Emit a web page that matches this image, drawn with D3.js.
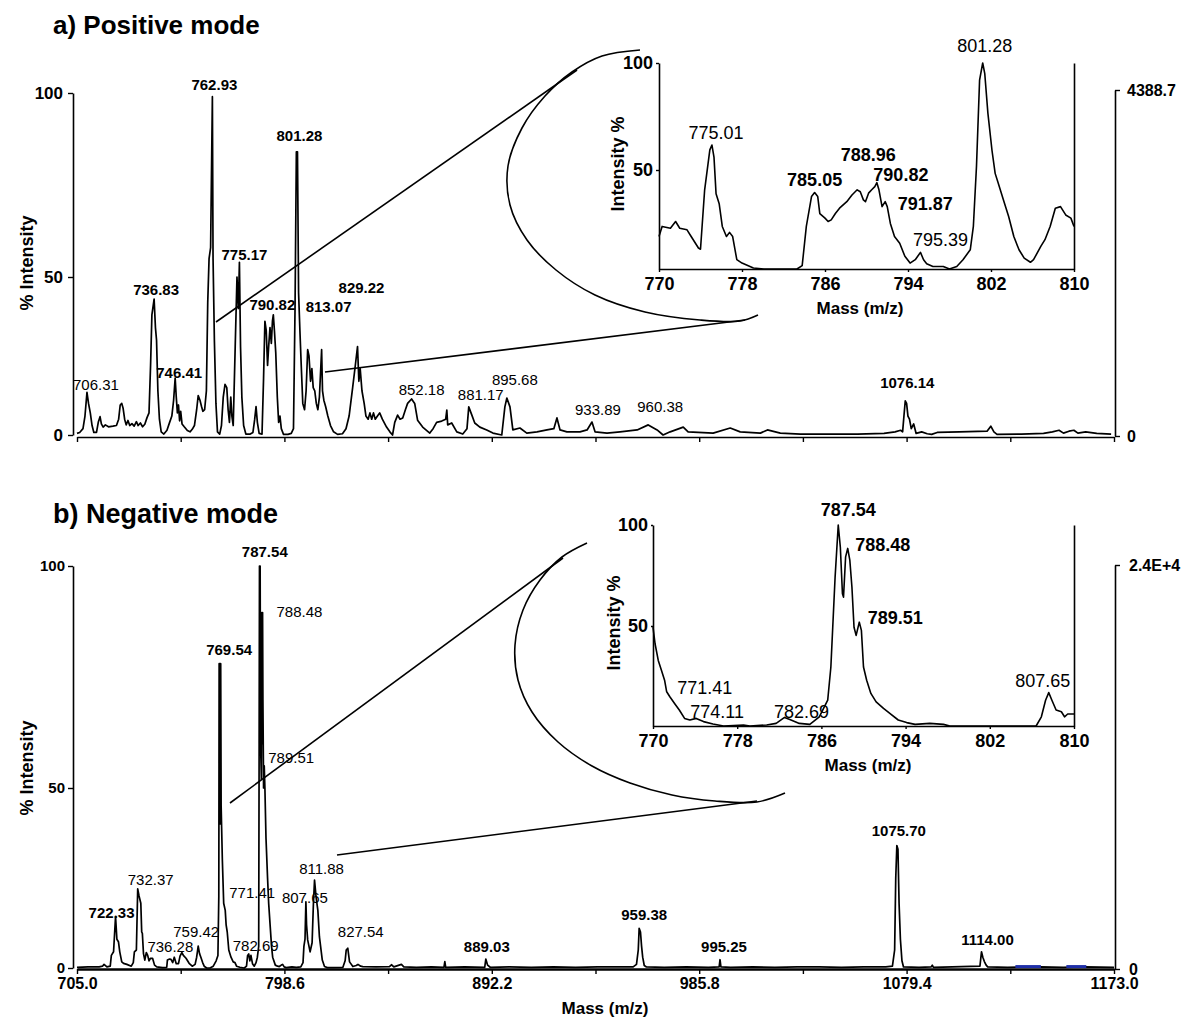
<!DOCTYPE html>
<html>
<head>
<meta charset="utf-8">
<script src="https://cdn.jsdelivr.net/npm/d3@7"></script>
<style>
body { margin: 0; background: #fff; }
svg { font-family: "Liberation Sans", Arial, sans-serif; }
</style>
</head>
<body>
<svg></svg>
<script>
// canvas
let width = 1191;
let height = 1023;

// ---------- data ----------
// full spectra: [m/z, % intensity]
let posSpectrum = [
  [701.8,0.5],[703.0,0.8],[704.5,2],[705.4,6],[706.3,13.5],[707.0,10],[707.8,7],[708.6,3],[709.4,0.8],[710.6,0.8],
  [711.4,4],[712.2,5.8],[712.8,3.5],[713.6,2.5],[714.6,3.2],[716.0,2.6],[718.0,2.8],[719.6,3],[720.6,5],[721.3,9.5],
  [722.0,10],[722.6,8.5],[723.3,5],[724.0,3.2],[724.8,4.6],[725.6,3],[726.6,3.6],[727.6,2.8],[728.6,4.2],[729.4,3],
  [730.4,3.8],[731.4,2.6],[732.4,3.4],[733.4,5.5],[734.3,7],[735.0,22],[735.6,38],[736.6,43],[737.2,34],[737.7,30],
  [738.3,14],[739.0,5],[739.8,1],[741.0,0.3],[742.4,1.5],[743.6,4],[744.6,6],[745.4,11],[746.1,18],[746.6,12],
  [747.1,7],[747.6,9.5],[748.1,4.5],[748.6,7.5],[749.2,3.5],[750.2,2.6],[751.6,1.4],[752.8,1],[753.8,1.8],[754.8,3],
  [755.8,8],[756.5,12.5],[757.3,11],[758.0,9],[758.6,7.5],[759.4,8],[760.2,14],[760.8,42],[761.4,55],[762.1,58],
  [762.9,99],[763.2,55],[763.8,30],[764.5,10],[765.2,1],[766.2,0.3],[767.0,3],[767.8,12],[768.6,16],[769.4,15],
  [770.0,8],[770.6,4],[771.2,12],[771.7,6],[772.3,3],[773.2,28],[774.0,50],[774.6,40],[775.1,54],[775.6,28],
  [776.2,12],[777.0,3],[778.0,0.3],[780.0,0.3],[781.2,0.8],[782.0,5],[782.6,9],[783.2,4],[784.0,0.5],[785.3,0.3],
  [786.0,18],[786.6,36],[787.2,33],[787.8,22],[788.3,28],[788.9,34],[789.5,29],[790.0,36],[790.4,38],[790.9,33],
  [791.5,26],[792.2,12],[792.8,4],[793.4,6],[794.0,2],[795.0,0.2],[797.0,0.2],[798.5,0.5],[799.5,2],[800.2,40],
  [800.8,84],[801.3,84],[801.8,45],[802.4,33],[803.0,22],[803.7,10],[804.5,8],[805.2,14],[805.9,27],[806.5,25],
  [807.2,17],[807.8,21],[808.4,15],[809.1,14],[809.8,10],[810.5,8],[811.2,12],[812.2,27],[812.6,14],[813.2,11],
  [814.0,9],[815.0,6],[816.2,3],[817.6,1],[819.4,0.2],[821.6,0.4],[823.2,2],[824.6,6],[826.2,15],[827.4,22],
  [828.4,28],[829.0,17],[829.6,21],[830.4,14],[831.4,10],[832.2,6],[833.2,5],[834.0,7],[834.8,5],[835.6,7],
  [836.4,5],[837.4,6],[838.4,7],[839.6,5],[841.5,2.5],[843.0,1],[844.2,0],[845.2,4],[846.5,6.3],[847.6,5],
  [848.8,5.4],[850.0,8],[851.0,10],[852.8,11.4],[854.2,10],[855.5,4.7],[857.8,2.5],[861.0,0.6],[862.5,2],[864.1,4],
  [866.4,4.4],[868.2,5],[868.7,7.9],[869.1,3.2],[870.9,3.8],[873.2,1],[875.9,0.3],[877.8,2],[878.6,8.9],[880.0,6.3],
  [881.3,3.8],[883.6,2.5],[886.7,1.6],[889.5,0.6],[893.5,0],[894.9,8.9],[895.8,11.7],[897.2,8.9],[898.5,1.6],[901.7,2.2],
  [904.8,0.6],[909.4,1],[913.9,1.6],[917.0,2],[918.4,5.4],[919.8,1.6],[922.9,1],[928.8,1],[932.0,1.6],[934.2,4.1],
  [935.6,1],[941.0,0.6],[946.9,1],[954.6,1.6],[959.6,3.2],[963.6,1.6],[966.3,0],[969.5,1],[975.4,2.5],[977.6,1],
  [988.9,0.6],[996.6,2.2],[1001.1,1],[1010.2,0.6],[1013.4,1.6],[1019.2,0.6],[1028.3,0.3],[1054.1,0.3],[1066.0,0.5],[1071.0,1],
  [1073.5,1.5],[1074.4,1],[1075.0,6],[1075.6,10.8],[1076.2,10],[1076.8,6],[1077.5,5],[1078.3,2],[1079.4,3.5],[1080.5,0.5],
  [1083.0,1],[1085.5,0.4],[1087.5,0.2],[1090.0,0.8],[1100.0,1],[1112.5,1.2],[1114.2,2.8],[1115.6,1],[1117.0,0.2],[1128.0,0.3],
  [1138.0,0.5],[1142.0,1],[1145.0,1.5],[1147.0,0.6],[1149.5,1.2],[1151.7,1.5],[1153.5,0.6],[1157.0,1],[1162.0,0.5],[1168.5,0.3]
];

let negSpectrum = [
  [705.0,0.2],[710.0,0.3],[715.0,0.3],[716.5,0.5],[717.2,1.0],[718.5,0.3],[720.0,0.5],[720.5,3.5],[721.5,4.5],[722.4,14.3],
  [723.0,8],[723.7,7.3],[724.3,4.5],[725.2,1.7],[726.0,1.3],[727.5,1.0],[729.5,0.5],[730.4,1.5],[730.9,4.5],[731.8,5],
  [732.4,22],[733.0,20],[733.8,18],[734.2,10],[734.5,9.6],[735.0,4],[735.6,2.2],[736.3,4.3],[736.9,3.5],[737.5,2],
  [738.2,2.7],[739.1,2.7],[740.0,0.8],[741.0,0.3],[743.6,0.1],[745.5,0.2],[745.8,2.2],[746.8,2.5],[747.4,2.4],[748.2,1.5],
  [748.9,3.0],[749.8,1.2],[750.8,1.2],[751.5,3.3],[752.3,4.3],[753.0,3.5],[754.2,2.7],[755.6,1.3],[757.0,0.5],[758.3,1],
  [759.0,3],[759.7,6.1],[760.3,4],[760.9,3],[761.7,1.5],[762.4,0.5],[763.5,0],[765.0,0],[766.5,0.5],[767.8,2],
  [768.6,3.5],[769.0,20],[769.15,78],[769.35,40],[769.5,78],[769.7,40],[769.85,78],[770.05,45],[770.6,30],[771.2,18],
  [771.9,16],[772.3,12],[772.8,10],[773.5,5],[774.5,3],[775.5,1.7],[776.3,1.5],[777.0,0.5],[778.5,0.2],[780.5,0],
  [781.5,0.5],[782.0,3.5],[782.5,3.9],[783.0,2],[783.5,3.5],[784.2,1.2],[785.0,0.5],[785.8,1.5],[786.4,3],[787.0,6],
  [787.2,60],[787.35,100],[787.5,70],[787.65,100],[787.85,60],[788.2,52],[788.4,89.5],[788.6,60],[788.75,89.5],[788.9,70],
  [789.2,50],[789.5,55],[789.8,50],[790.3,36],[791.0,25],[791.5,18],[792.1,12.4],[792.8,6],[793.3,3],[794.5,0.8],
  [795.5,0.5],[796.3,0.4],[797.2,0.8],[797.8,1],[798.5,0.3],[799.4,0.1],[802.0,0.3],[804.0,0.2],[806.0,0.3],[807.0,1.5],
  [807.4,6],[807.9,8],[808.3,18.4],[808.6,12],[809.1,7.8],[809.7,6],[810.2,4.5],[811.1,7],[811.7,18],[812.2,24.4],
  [812.9,19.7],[813.7,16],[814.4,8.7],[815.7,2.2],[816.7,0.4],[818.0,0.1],[820.5,0.1],[825.0,0.2],[826.0,2],[826.5,5],
  [827.2,5.5],[828.0,1.7],[829.5,0.4],[831.0,0.7],[831.8,1],[833.0,0.5],[834.0,0.4],[840.0,0.3],[846.0,0.4],[846.9,0.9],
  [848.0,0.3],[851.4,1.0],[852.5,0.3],[858.2,0.2],[865.0,0.3],[870.6,0.2],[871.0,1.8],[871.4,0.2],[880.0,0.3],[889.0,0.2],
  [889.5,2.5],[890.3,0.8],[891.5,0.2],[900,0.3],[910,0.2],[920,0.3],[930,0.2],[940,0.3],[950,0.3],[956,0.3],
  [957.5,1],[958.3,5],[958.7,11],[959.3,10],[959.8,6],[960.3,3],[961.0,0.7],[962,0.3],[970,0.2],[980,0.3],
  [990,0.2],[994.8,0.3],[995.2,2.3],[995.6,0.3],[1000,0.2],[1010,0.3],[1020,0.2],[1030,0.3],[1040,0.3],[1050,0.2],
  [1060,0.3],[1070,0.3],[1073.0,0.5],[1074.0,5],[1074.5,25],[1075.0,34],[1075.5,33],[1076.0,18],[1076.6,8],[1077.3,2],
  [1078.0,0.3],[1085,0.2],[1090.5,0.3],[1091.0,0.8],[1091.5,0.2],[1100,0.3],[1112.5,0.5],[1113.2,4.5],[1113.8,3],[1114.5,1.8],
  [1115.3,0.8],[1116,0.3],[1125,0.2],[1140,0.3],[1150,0.2],[1160,0.3],[1173,0.2]
];

// blue baseline segments at the right end of the negative spectrum: [from m/z, to m/z]
let negBlueRanges = [[1128.5, 1140.0], [1151.5, 1160.5]];

// zoomed windows 770-810
let posZoom = [
  [770.0,16.4],[770.3,21.5],[771.1,20.6],[771.6,24],[772.0,20.6],[772.7,19.8],[773.1,16.4],[773.8,10.6],[774.0,10],[774.4,40],
  [774.9,59.4],[775.1,61.7],[775.3,56],[775.5,38],[775.8,33],[776.1,21.5],[776.5,16.4],[776.8,18.5],[777.1,16.4],[777.5,4.7],
  [778.0,3],[779.1,0.5],[780.1,0],[783.3,0],[783.8,1.7],[784.2,21.5],[784.7,36.6],[785.0,38.6],[785.3,36.6],[785.5,28],
  [786.0,25.7],[786.3,24],[786.6,24.8],[787.0,28],[787.4,30.7],[788.1,34],[788.6,37.4],[789.1,40],[789.4,39],[789.7,34.9],
  [789.9,34],[790.2,38.3],[790.5,40],[790.8,41.6],[791.0,43.6],[791.2,40],[791.5,31.5],[791.8,34],[792.0,31.5],[792.3,23],
  [792.7,16.4],[793.2,13],[793.7,6.4],[794.2,3],[794.7,4.7],[795.2,8.4],[795.5,4.7],[795.8,2.7],[796.4,1.3],[797.4,1.3],
  [798.0,0],[798.7,1.3],[799.3,4.7],[800.0,9.7],[800.3,21.5],[800.6,51.6],[800.9,92],[801.2,100],[801.4,95],[801.7,76.6],
  [802.1,59],[802.4,48.3],[802.7,43.3],[803.2,34.9],[803.7,26.5],[804.2,16.4],[804.7,9.7],[805.2,5.5],[805.8,3.4],[806.1,4.7],
  [806.8,11.4],[807.2,14.8],[807.7,21.5],[808.2,30.7],[808.7,31.5],[809.2,27.3],[809.7,25.7],[810.0,21.5]
];

let negZoom = [
  [770.0,49.4],[770.2,41],[770.5,32.8],[770.8,27.9],[771.1,22.9],[771.3,17.1],[771.6,14.6],[772.1,10.9],[772.5,8],[773.0,3.8],
  [773.5,3],[774.1,3.8],[774.8,2.2],[775.7,1],[776.7,0],[778.6,0.5],[779.2,0],[780.8,0.5],[781.7,1.3],[782.5,4.3],
  [783.0,3.3],[783.9,1.3],[784.9,0.8],[785.8,4.6],[786.6,12.9],[786.9,29.5],[787.3,74],[787.6,100],[787.8,89],[788.0,66],
  [788.1,64.3],[788.3,84.2],[788.5,88.4],[788.7,82.6],[788.9,69.3],[789.1,49.4],[789.3,45.3],[789.6,51.9],[789.8,47.8],[790.0,29.5],
  [790.3,22.9],[790.7,16.3],[791.2,12.1],[791.9,8.8],[792.5,6.3],[793.3,3],[794.1,1.7],[794.9,0.8],[796.3,1.3],[797.6,0.8],
  [798.2,0],[802.0,0],[806.4,0],[806.9,4.6],[807.3,12.9],[807.6,16.7],[807.9,12.9],[808.3,8],[808.8,7.1],[809.1,4.6],
  [809.4,6],[810.0,6]
];

// peak labels: [text, m/z of the peak, % intensity of the peak]
let posPeaks = [
  ['706.31',706.3,13.5],['736.83',736.6,43],['746.41',746.1,18],['762.93',762.9,99],['775.17',775.1,54],
  ['790.82',790.4,38],['801.28',801.3,84],['813.07',812.2,27],['829.22',828.4,28],['852.18',852.8,11.4],
  ['881.17',878.6,8.9],['895.68',895.8,11.7],['933.89',934.2,4.1],['960.38',959.6,3.2],['1076.14',1075.6,10.8]
];
let negPeaks = [
  ['722.33',722.4,14.3],['732.37',732.4,22],['736.28',736.3,4.3],['759.42',759.7,6.1],['769.54',769.6,78],
  ['771.41',771.9,16],['782.69',782.5,3.9],['787.54',787.5,100],['788.48',788.7,89.5],['789.51',789.5,55],
  ['807.65',808.3,18.4],['811.88',812.2,24.4],['827.54',827.2,5.5],['889.03',889.5,2.5],['959.38',958.7,11],
  ['995.25',995.2,2.3],['1075.70',1075.0,34],['1114.00',1113.2,4.5]
];
let posZoomPeaks = [
  ['775.01',775.1,61.7],['785.05',785.0,38.6],['788.96',789.1,40],['790.82',791.0,43.6],
  ['791.87',791.8,34],['795.39',795.2,8.4],['801.28',801.2,100]
];
let negZoomPeaks = [
  ['771.41',771.6,14.6],['774.11',774.1,3.8],['782.69',782.5,4.3],['787.54',787.6,100],
  ['788.48',788.5,88.4],['789.51',789.6,51.9],['807.65',807.6,16.7]
];

// axes
let massTicks = [705.0, 751.8, 798.6, 845.4, 892.2, 939.0, 985.8, 1032.6, 1079.4, 1126.2, 1173.0];
let massTickLabels = ['705.0', '', '798.6', '', '892.2', '', '985.8', '', '1079.4', '', '1173.0'];
let intensityTicks = [0, 50, 100];
let zoomTicks = [770, 778, 786, 794, 802, 810];
let zoomIntensityTicks = [50, 100];
let posCounts = [0, 4388.7];
let posCountLabels = ['0', '4388.7'];
let negCounts = [0, 24000];
let negCountLabels = ['0', '2.4E+4'];

// ---------- label placement (pixel nudges from the peak top) and weights ----------
let posLabelNudge = {
  '706.31':[9,-2,'normal'], '736.83':[2,-4,'bold'], '746.41':[4,0,'bold'], '762.93':[2,-7,'bold'],
  '775.17':[5,-2,'bold'], '790.82':[-1,-5,'bold'], '801.28':[2,-11,'bold'], '813.07':[7,-38,'bold'],
  '829.22':[4,-54,'bold'], '852.18':[10,-4,'normal'], '881.17':[12,-7,'normal'], '895.68':[8,-13,'normal'],
  '933.89':[6,-7,'normal'], '960.38':[12,-13,'normal'], '1076.14':[2,-13,'bold']
};
let negLabelNudge = {
  '722.33':[-4,1,'bold'], '732.37':[13,-4,'normal'], '736.28':[24,-1,'normal'], '759.42':[-2,-9,'normal'],
  '769.54':[9,-9,'bold'], '771.41':[27,-12,'normal'], '782.69':[7,-3,'normal'], '787.54':[5,-9,'bold'],
  '788.48':[37,4,'normal'], '789.51':[27,-3,'normal'], '807.65':[-1,1,'normal'], '811.88':[7,-6,'normal'],
  '827.54':[13,-11,'normal'], '889.03':[1,-7,'bold'], '959.38':[5,-8,'bold'], '995.25':[4,-8,'bold'],
  '1075.70':[2,-10,'bold'], '1114.00':[6,-7,'bold']
};
let posZoomNudge = {
  '775.01':[4,-6,'normal'], '785.05':[0,-7,'bold'], '788.96':[11,-29,'bold'], '790.82':[24,-2,'bold'],
  '791.87':[40,8,'bold'], '795.39':[20,-6,'normal'], '801.28':[2,-11,'normal']
};
let negZoomNudge = {
  '771.41':[35,-3,'normal'], '774.11':[21,0,'normal'], '782.69':[17,1,'normal'], '787.54':[10,-9,'bold'],
  '788.48':[35,3,'bold'], '789.51':[36,2,'bold'], '807.65':[-6,-6,'normal']
};

// callout shapes (pixel geometry of the hand-drawn loops)
let posCallout = {
  lines: [[[216,322],[577,70]], [[325,372],[745,320]]],
  loop: [[640,50],[602,56],[572,72],[545,96],[522,128],[508,166],[510,205],[527,240],[556,270],[595,295],[645,312],[700,320],[740,321],[758,315]]
};
let negCallout = {
  lines: [[[230,803],[563,558]], [[337,855],[757,801]]],
  loop: [[587,543],[562,557],[540,580],[523,610],[515,645],[518,680],[532,712],[558,742],[592,766],[630,783],[672,795],[715,801],[757,802],[785,793]]
};

// ---------- svg ----------
let svg = d3.select('svg')
  .attr('width', width)
  .attr('height', height);

svg.append('rect').attr('width', width).attr('height', height).attr('fill', '#fff');

// scales
let xAxisScale = d3.scaleLinear().domain([705, 1173]).range([77, 1114]);
let xPos = d3.scaleLinear().domain([701.8, 1169.8]).range([77, 1114]);   // top spectrum calibration
let xNeg = xAxisScale;
let yPos = d3.scaleLinear().domain([0, 50, 100]).range([435, 277, 93]);
let yNeg = d3.scaleLinear().domain([0, 50, 100]).range([968, 788, 566]);
let yPosCounts = d3.scaleLinear().domain([0, 4388.7]).range([436, 90]);
let yNegCounts = d3.scaleLinear().domain([0, 24000]).range([969, 565]);

let xZoomPos = d3.scaleLinear().domain([770, 810]).range([659, 1074]);
let yZoomPos = d3.scaleLinear().domain([0, 50, 100]).range([269, 170, 63]);
let xZoomNeg = d3.scaleLinear().domain([770, 810]).range([653, 1074]);
let yZoomNeg = d3.scaleLinear().domain([0, 50, 100]).range([726, 626, 525]);

function styleAxis(g, size) {
  g.select('.domain').attr('stroke', '#000').attr('stroke-width', 1.6);
  g.selectAll('.tick line').attr('stroke', '#000').attr('stroke-width', 1.4);
  g.selectAll('.tick text')
    .attr('fill', '#000')
    .attr('font-size', size)
    .attr('font-weight', 'bold')
    .attr('font-family', '"Liberation Sans", Arial, sans-serif');
}

function drawSpectrum(data, xs, ys, width) {
  let line = d3.line()
    .x(function(d) { return xs(d[0]); })
    .y(function(d) { return ys(d[1]); });
  svg.append('path')
    .datum(data)
    .attr('d', line)
    .attr('fill', 'none')
    .attr('stroke', '#000')
    .attr('stroke-width', width)
    .attr('stroke-linejoin', 'round');
}

function drawLabels(peaks, nudge, xs, ys, size) {
  svg.append('g')
    .selectAll('text')
    .data(peaks)
    .enter()
    .append('text')
    .attr('x', function(d) { return xs(d[1]) + nudge[d[0]][0]; })
    .attr('y', function(d) { return ys(d[2]) + nudge[d[0]][1]; })
    .attr('text-anchor', 'middle')
    .attr('font-size', size)
    .attr('font-weight', function(d) { return nudge[d[0]][2]; })
    .attr('fill', '#000')
    .text(function(d) { return d[0]; });
}

function drawCallout(c) {
  c.lines.forEach(function(seg) {
    svg.append('line')
      .attr('x1', seg[0][0]).attr('y1', seg[0][1])
      .attr('x2', seg[1][0]).attr('y2', seg[1][1])
      .attr('stroke', '#000').attr('stroke-width', 1.6);
  });
  svg.append('path')
    .datum(c.loop)
    .attr('d', d3.line().curve(d3.curveCatmullRom))
    .attr('fill', 'none')
    .attr('stroke', '#000')
    .attr('stroke-width', 1.6);
}

function rotatedText(x, y, txt, size) {
  svg.append('text')
    .attr('transform', `translate(${x}, ${y}) rotate(-90)`)
    .attr('text-anchor', 'middle')
    .attr('font-size', size)
    .attr('font-weight', 'bold')
    .text(txt);
}

// ---------- titles ----------
svg.append('text').attr('x', 53).attr('y', 34).attr('font-size', 26).attr('font-weight', 'bold').text('a) Positive mode');
svg.append('text').attr('x', 53).attr('y', 523).attr('font-size', 27).attr('font-weight', 'bold').text('b) Negative mode');

// ---------- panel a: main axes ----------
svg.append('g')
  .attr('transform', 'translate(0, 437)')
  .call(d3.axisBottom(xAxisScale).tickValues(massTicks).tickSize(5).tickSizeOuter(0).tickFormat(''))
  .call(styleAxis, 16);

svg.append('g')
  .attr('transform', 'translate(73, 0)')
  .call(d3.axisLeft(yPos).tickValues(intensityTicks).tickSize(5).tickSizeOuter(0).tickPadding(5))
  .call(styleAxis, 17);

svg.append('g')
  .attr('transform', 'translate(1115, 0)')
  .call(d3.axisRight(yPosCounts).tickValues(posCounts).tickSize(5).tickSizeOuter(0).tickPadding(7)
    .tickFormat(function(d, i) { return posCountLabels[i]; }))
  .call(styleAxis, 16);

rotatedText(33, 263, '% Intensity', 18);

drawSpectrum(posSpectrum, xPos, yPos, 1.7);
drawLabels(posPeaks, posLabelNudge, xPos, yPos, 15);
drawCallout(posCallout);

// ---------- panel a: inset ----------
svg.append('g')
  .attr('transform', 'translate(0, 269)')
  .call(d3.axisBottom(xZoomPos).tickValues(zoomTicks).tickSize(3).tickSizeOuter(0).tickPadding(5))
  .call(styleAxis, 18);
svg.append('g')
  .attr('transform', 'translate(659, 0)')
  .call(d3.axisLeft(yZoomPos).tickValues(zoomIntensityTicks).tickSize(3).tickSizeOuter(0).tickPadding(3))
  .call(styleAxis, 18);
svg.append('g')
  .attr('transform', 'translate(1074, 0)')
  .call(d3.axisRight(yZoomPos).tickValues([]).tickSizeOuter(0))
  .call(styleAxis, 18);

drawSpectrum(posZoom, xZoomPos, yZoomPos, 1.6);
drawLabels(posZoomPeaks, posZoomNudge, xZoomPos, yZoomPos, 18);
rotatedText(624, 164, 'Intensity %', 18);
svg.append('text').attr('x', 860).attr('y', 314).attr('text-anchor', 'middle')
  .attr('font-size', 17).attr('font-weight', 'bold').text('Mass (m/z)');

// ---------- panel b: main axes ----------
svg.append('g')
  .attr('transform', 'translate(0, 969)')
  .call(d3.axisBottom(xAxisScale).tickValues(massTicks).tickSize(5).tickSizeOuter(0).tickPadding(4)
    .tickFormat(function(d, i) { return massTickLabels[i]; }))
  .call(styleAxis, 16)
  .call(function(g) { g.select('.domain').attr('stroke-width', 2.6); });

svg.append('g')
  .attr('transform', 'translate(73, 0)')
  .call(d3.axisLeft(yNeg).tickValues(intensityTicks).tickSize(5).tickSizeOuter(0).tickPadding(3))
  .call(styleAxis, 15);

svg.append('g')
  .attr('transform', 'translate(1115, 0)')
  .call(d3.axisRight(yNegCounts).tickValues(negCounts).tickSize(5).tickSizeOuter(0).tickPadding(9)
    .tickFormat(function(d, i) { return negCountLabels[i]; }))
  .call(styleAxis, 16);

rotatedText(33, 768, '% Intensity', 18);
svg.append('text').attr('x', 605).attr('y', 1014).attr('text-anchor', 'middle')
  .attr('font-size', 17).attr('font-weight', 'bold').text('Mass (m/z)');

drawSpectrum(negSpectrum, xNeg, yNeg, 1.7);
svg.append('g')
  .selectAll('line')
  .data(negBlueRanges)
  .enter()
  .append('line')
  .attr('x1', function(d) { return xNeg(d[0]); })
  .attr('x2', function(d) { return xNeg(d[1]); })
  .attr('y1', yNeg(0.4)).attr('y2', yNeg(0.4))
  .attr('stroke', '#1f2fa8').attr('stroke-width', 3);
drawLabels(negPeaks, negLabelNudge, xNeg, yNeg, 15);
drawCallout(negCallout);

// ---------- panel b: inset ----------
svg.append('g')
  .attr('transform', 'translate(0, 726)')
  .call(d3.axisBottom(xZoomNeg).tickValues(zoomTicks).tickSize(3).tickSizeOuter(0).tickPadding(5))
  .call(styleAxis, 18);
svg.append('g')
  .attr('transform', 'translate(653, 0)')
  .call(d3.axisLeft(yZoomNeg).tickValues(zoomIntensityTicks).tickSize(2).tickSizeOuter(0).tickPadding(3))
  .call(styleAxis, 18);
svg.append('g')
  .attr('transform', 'translate(1074, 0)')
  .call(d3.axisRight(yZoomNeg).tickValues([]).tickSizeOuter(0))
  .call(styleAxis, 18);

drawSpectrum(negZoom, xZoomNeg, yZoomNeg, 1.6);
drawLabels(negZoomPeaks, negZoomNudge, xZoomNeg, yZoomNeg, 18);
rotatedText(620, 623, 'Intensity %', 18);
svg.append('text').attr('x', 868).attr('y', 771).attr('text-anchor', 'middle')
  .attr('font-size', 17).attr('font-weight', 'bold').text('Mass (m/z)');
</script>
</body>
</html>
